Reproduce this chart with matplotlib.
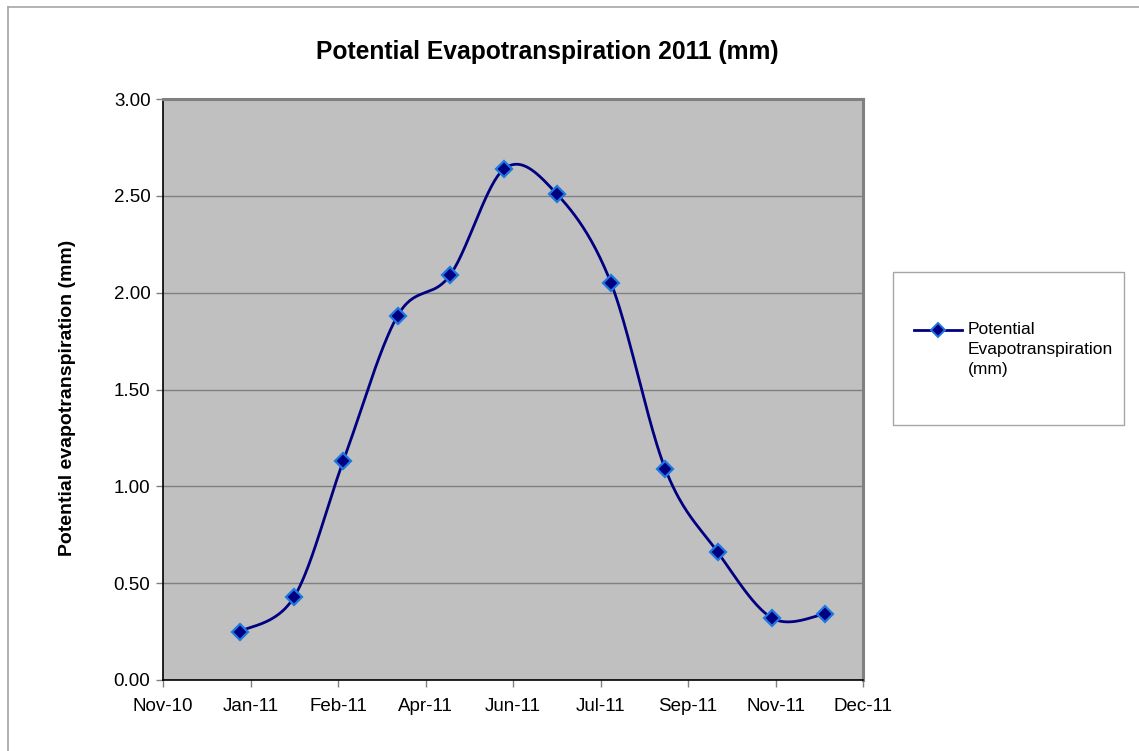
import datetime as dt
import numpy as np
import matplotlib
matplotlib.use("Agg")
import matplotlib.pyplot as plt
import matplotlib.dates as mdates
from matplotlib.lines import Line2D
from matplotlib.patches import Rectangle

plt.rcParams["font.family"] = ["Liberation Sans", "DejaVu Sans"]

# Monthly potential evapotranspiration, 2011 (mm)
months = [dt.date(2011, m, 1) for m in range(1, 13)]
pet_mm = [0.25, 0.43, 1.13, 1.88, 2.09, 2.64, 2.51, 2.05, 1.09, 0.66, 0.32, 0.34]

title = "Potential Evapotranspiration 2011 (mm)"
y_label = "Potential evapotranspiration (mm)"
series_name = "Potential\nEvapotranspiration\n(mm)"

x_start = dt.date(2010, 11, 18)
x_step_days = 50
x_steps = 8
y_ticks = [0.0, 0.5, 1.0, 1.5, 2.0, 2.5, 3.0]

line_color = "#000080"
marker_edge = "#1E78E0"


def smooth_curve(x, y, n=40):
    """Catmull-Rom style Bezier smoothing through every point."""
    pts = np.column_stack([x, y]).astype(float)
    ext = np.vstack([pts[0], pts, pts[-1]])
    t = np.linspace(0, 1, n)[:, None]
    out = []
    for i in range(1, len(ext) - 2):
        p0, p1, p2, p3 = ext[i - 1], ext[i], ext[i + 1], ext[i + 2]
        c1 = p1 + (p2 - p0) / 6.0
        c2 = p2 - (p3 - p1) / 6.0
        seg = ((1 - t) ** 3) * p1 + 3 * ((1 - t) ** 2) * t * c1 \
            + 3 * (1 - t) * t ** 2 * c2 + t ** 3 * p2
        out.append(seg if i == 1 else seg[1:])
    out = np.vstack(out)
    return out[:, 0], out[:, 1]


W, H = 1139, 751
fig = plt.figure(figsize=(W / 100, H / 100), dpi=100)
fig.patch.set_facecolor("white")

# outer chart frame
fig.add_artist(Line2D([7.5 / W, 7.5 / W], [0, 1 - 6.5 / H], color="#A6A6A6", lw=1.2))
fig.add_artist(Line2D([7.5 / W, 1], [1 - 6.5 / H, 1 - 6.5 / H], color="#A6A6A6", lw=1.2))

ax = fig.add_axes([163 / W, 1 - 680 / H, 700 / W, 581 / H])
ax.set_facecolor("#C0C0C0")

xnum = mdates.date2num(months)
sx, sy = smooth_curve(xnum, pet_mm)
ax.plot(sx, sy, color=line_color, lw=2.0, zorder=3, solid_capstyle="round")
ax.plot(xnum, pet_mm, linestyle="none", marker="D", markersize=8.5,
        markerfacecolor=line_color, markeredgecolor=marker_edge,
        markeredgewidth=1.6, zorder=4)

x0 = mdates.date2num(x_start)
xticks = [x0 + i * x_step_days for i in range(x_steps + 1)]
ax.set_xlim(xticks[0], xticks[-1])
ax.set_xticks(xticks)
ax.xaxis.set_major_formatter(mdates.DateFormatter("%b-%y"))
ax.set_ylim(0, 3)
ax.set_yticks(y_ticks)
ax.set_yticklabels([f"{v:.2f}" for v in y_ticks])

ax.grid(axis="y", color="#808080", lw=1.0)
ax.set_axisbelow(True)

ax.tick_params(axis="both", labelsize=13.5, colors="black", length=5, width=1.0)
ax.tick_params(axis="x", color="#808080", pad=8)
ax.tick_params(axis="y", color="#808080", pad=4)

ax.spines["left"].set_color("black")
ax.spines["bottom"].set_color("black")
ax.spines["left"].set_linewidth(1.2)
ax.spines["bottom"].set_linewidth(1.2)
for s in ("top", "right"):
    ax.spines[s].set_color("#808080")
    ax.spines[s].set_linewidth(2.2)

ax.set_ylabel(y_label, fontsize=14, fontweight="bold")
ax.yaxis.set_label_coords(-0.124, 0.485)
fig.text(547 / W, 1 - 52 / H, title, ha="center", va="center",
         fontsize=17.7, fontweight="bold")

# legend box
lx0, ly0, lx1, ly1 = 893, 272, 1124, 425
fig.add_artist(Rectangle((lx0 / W, 1 - ly1 / H), (lx1 - lx0) / W, (ly1 - ly0) / H,
                         transform=fig.transFigure, facecolor="white",
                         edgecolor="#A6A6A6", lw=1.0))
fig.add_artist(Line2D([914 / W, 962 / W], [1 - 330 / H, 1 - 330 / H],
                      color=line_color, lw=2.0, transform=fig.transFigure))
fig.add_artist(Line2D([938 / W], [1 - 330 / H], color=line_color, marker="D",
                      markersize=7.5, markerfacecolor=line_color,
                      markeredgecolor=marker_edge, markeredgewidth=1.4,
                      linestyle="none", transform=fig.transFigure))
fig.text(968 / W, 1 - 322 / H, series_name, ha="left", va="top",
         fontsize=12.5, linespacing=1.42)

fig.savefig("out.png", dpi=100, facecolor="white")
